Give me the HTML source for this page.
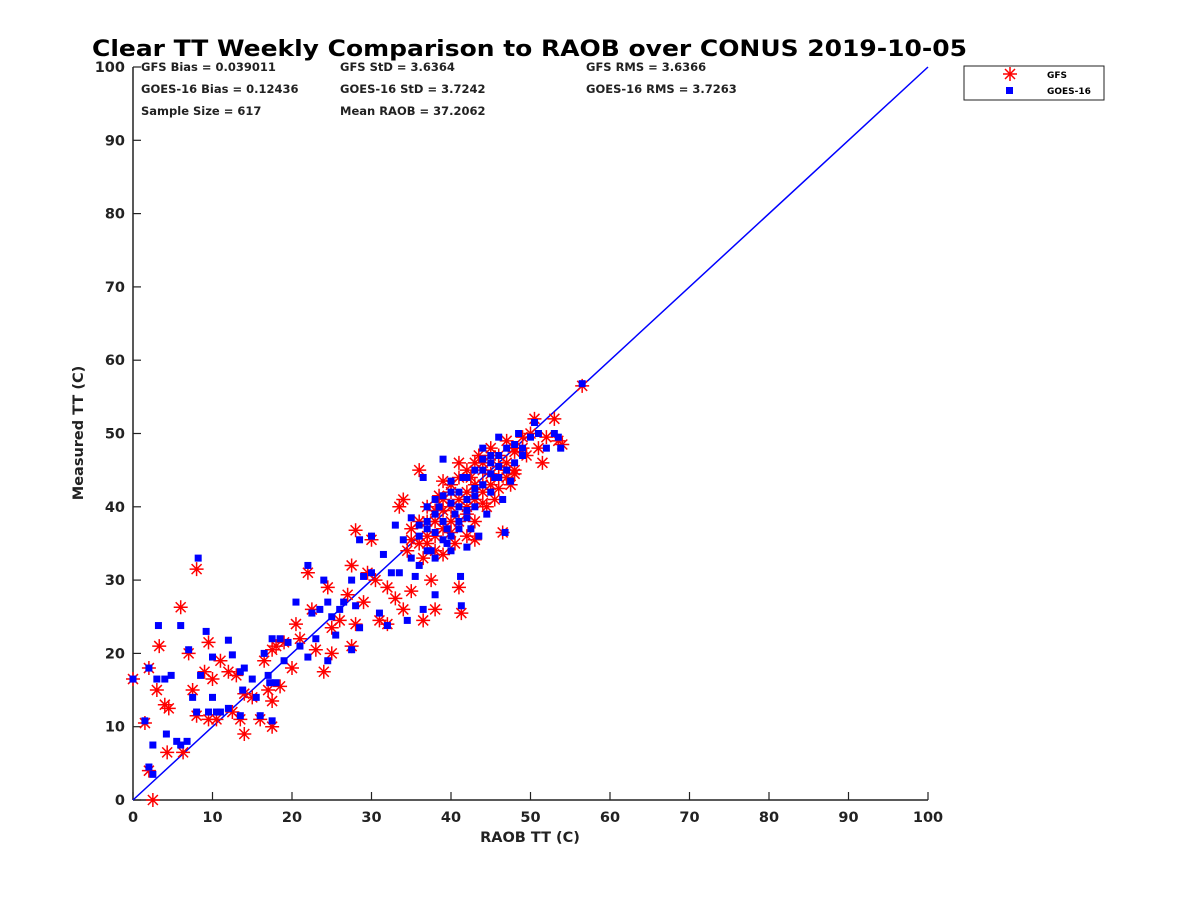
<!DOCTYPE html>
<html><head><meta charset="utf-8"><style>
html,body{margin:0;padding:0;background:#fff;}
svg{display:block;font-family:"DejaVu Sans","Liberation Sans",sans-serif;}
</style></head><body>
<svg id="chart" width="1200" height="900" viewBox="0 0 1200 900" xmlns="http://www.w3.org/2000/svg">
<rect width="1200" height="900" fill="#fff"/>
<text x="92" y="56" font-size="22.5" font-weight="bold" fill="#000" textLength="875" lengthAdjust="spacingAndGlyphs">Clear TT Weekly Comparison to RAOB over CONUS 2019-10-05</text>
<g font-size="11.5" font-weight="bold" fill="#222">
<text x="141" y="71">GFS Bias = 0.039011</text>
<text x="340" y="71">GFS StD = 3.6364</text>
<text x="586" y="71">GFS RMS = 3.6366</text>
<text x="141" y="93">GOES-16 Bias = 0.12436</text>
<text x="340" y="93">GOES-16 StD = 3.7242</text>
<text x="586" y="93">GOES-16 RMS = 3.7263</text>
<text x="141" y="115">Sample Size = 617</text>
<text x="340" y="115">Mean RAOB = 37.2062</text>
</g>
<g id="axes"></g>
<g id="marks"></g>
<g>
<rect x="964" y="66" width="140" height="34" fill="#fff" stroke="#222" stroke-width="1"/>
<g stroke="#f00" stroke-width="1.5">
<line x1="1003" y1="74" x2="1017" y2="74"/><line x1="1010" y1="67" x2="1010" y2="81"/>
<line x1="1005" y1="69" x2="1015" y2="79"/><line x1="1005" y1="79" x2="1015" y2="69"/></g>
<rect x="1006" y="87" width="7" height="7" fill="#00f"/>
<text x="1047" y="78" font-size="9" font-weight="bold">GFS</text>
<text x="1047" y="94" font-size="9" font-weight="bold">GOES-16</text>
</g>
<text x="530" y="842" font-size="14.5" font-weight="bold" text-anchor="middle" fill="#222">RAOB TT (C)</text>
<text transform="translate(83,433) rotate(-90)" font-size="14.5" font-weight="bold" text-anchor="middle" fill="#222">Measured TT (C)</text>
</svg>
<script>
const xTicks=[0,10,20,30,40,50,60,70,80,90,100];
const yTicks=[0,10,20,30,40,50,60,70,80,90,100];
const gfsX=[0,1.5,2,2,2.5,3,3.3,4,4.5,4.3,6,6.3,7,7.5,8,8,9,9.5,9.5,10,10.5,11,12,12.5,13,13.5,14,14,15,16,16.5,17,17.5,17.5,17.5,18,18.5,19,20,20.5,21,22,22.5,23,24,24.5,25,25,26,27,27.5,27.5,28,28,29,29.5,30,30.5,31,32,32,33,33.5,34,34,34.5,35,35,36,36.5,36.5,37,37.5,38,38,39,39,40,40,40.5,41,41,41.3,42,42,42.5,43,43,43.5,44,44,44.5,45,45,45.5,46,46,46.5,47,47,47.5,48,48,49,49.5,50,50.5,51,51.5,52,53,53.5,54,56.5,38,39,40,41,37,42,43,38.5,36,35,44,45,36,37,38,39,40,41,42,43,44,45,46,47,48,39,40,41,42,43,44,37,38,46,47,48,49];
const gfsY=[16.5,10.5,18,4,0,15,21,13,12.5,6.5,26.3,6.5,20,15,11.5,31.5,17.5,21.5,11,16.5,11,19,17.5,12,17,11,9,14.5,14,11,19,15,13.5,10,20.5,21,15.5,21.5,18,24,22,31,26,20.5,17.5,29,20,23.5,24.5,28,21,32,36.8,24,27,31,35.5,30,24.5,24,29,27.5,40,41,26,34,28.5,37,45,24.5,33,38,30,26,36,41,33.5,43,38,35,46,29,25.5,40,36,44,38,35.5,47,42,45,40,48,43,41,47,44,36.5,49,45,43,48,44.5,49.5,47,50,52,48,46,49.5,52,49,48.5,56.5,38,39.5,40,41,36,42,43,41.5,35,35.5,46,44.5,38,40,39.5,37,42,38,45,41,43,47,45.5,46,47.5,43.5,36.5,44,39,46,40.5,35,34,42.5,44,45,48];
const goesX=[0,1.5,2,2,2.5,2.5,3,3.2,4,4.2,4.8,5.5,6,6,6.8,7,7.5,8,8.2,8.5,9.2,9.5,10,10,10.5,11,12,12,12.5,13.5,13.5,13.8,14,15,15.5,16,16.5,17,17.2,17.5,17.5,18,18.5,19,19.5,20.5,21,22,22,22.5,23,23.5,24,24.5,24.5,25,25.5,26,26.5,27.5,27.5,28,28.5,28.5,29,30,30,31,31.5,32,32.5,33,33.5,34.5,35,35.5,36,36.5,36.5,37,37.5,38,38,38.5,39,39.5,40,40,40.5,41,41.2,41.3,41.5,42,42,42.5,43,43,43.5,44,44,44.5,45,45,45.5,46,46,46.5,46.8,47,47.5,48,48.5,49,50,50.5,51,52,53,53.5,53.8,56.5,38,39,37,36,40,41,42,43,44,45,38,39.5,35,34,37,36,37,38,39,40,41,42,43,44,45,46,47,48,49,40,42,44,46,39,41];
const goesY=[16.5,10.8,18,4.5,3.5,7.5,16.5,23.8,16.5,9,17,8,23.8,7.5,8,20.5,14,12,33,17,23,12,14,19.5,12,12,21.8,12.5,19.8,17.5,11.5,15,18,16.5,14,11.5,20,17,16,22,10.8,16,22,19,21.5,27,21,32,19.5,25.5,22,26,30,19,27,25,22.5,26,27,30,20.5,26.5,23.5,35.5,30.5,36,31,25.5,33.5,23.8,31,37.5,31,24.5,33,30.5,32,26,44,37,34,28,33,40,46.5,37,34,42,39,38,30.5,26.5,44,34.5,41,37,45,40,36,43,48,39,46,42,44,49.5,45.5,41,36.5,48,43.5,46,50,48,49.5,51.5,50,48,50,49.5,48,56.8,39,41.5,40,37.5,43.5,40,44,42.5,45,47,36.5,35,38.5,35.5,34,36,38,41,38,40.5,42,38.5,41.5,46.5,44.5,47,45,48.5,47,36,39.5,43,44,35.5,37];
const NS='http://www.w3.org/2000/svg';
const X0=133,X1=928,Y0=800,Y1=67;
const sx=v=>X0+(v-0)/(100-0)*(X1-X0);
const sy=v=>Y0-(v-0)/(100-0)*(Y0-Y1);
function mk(tag,attrs,parent){const e=document.createElementNS(NS,tag);for(const k in attrs)e.setAttribute(k,attrs[k]);parent.appendChild(e);return e;}
const axes=document.getElementById('axes'),marks=document.getElementById('marks');
let l=mk('line',{x1:X0,y1:Y0,x2:X1,y2:Y0,stroke:'#222','stroke-width':1.5},axes);


l=mk('line',{x1:X0,y1:Y0,x2:X0,y2:Y1,stroke:'#222','stroke-width':1.5},axes);


xTicks.forEach(t=>{
 const tk=mk('line',{x1:sx(t),y1:Y0,x2:sx(t),y2:Y0-8,stroke:'#222','stroke-width':1.2},axes);
 
 
 const tx=mk('text',{x:sx(t),y:Y0+22,'font-size':14.5,'font-weight':'bold','text-anchor':'middle',fill:'#222'},axes);
 tx.textContent=t;
 
 
});
yTicks.forEach(t=>{
 const tk=mk('line',{x1:X0,y1:sy(t),x2:X0+8,y2:sy(t),stroke:'#222','stroke-width':1.2},axes);
 
 
 const tx=mk('text',{x:X0-8,y:sy(t)+5,'font-size':14.5,'font-weight':'bold','text-anchor':'end',fill:'#222'},axes);
 tx.textContent=t;
 
 
});
const ref=mk('line',{x1:sx(0),y1:sy(0),x2:sx(100),y2:sy(100),stroke:'#00f','stroke-width':1.5},marks);


gfsX.forEach((x,i)=>{
 const cx=sx(x),cy=sy(gfsY[i]),r=7,d=5;
 const g=mk('path',{d:`M${cx-r},${cy}H${cx+r}M${cx},${cy-r}V${cy+r}M${cx-d},${cy-d}L${cx+d},${cy+d}M${cx-d},${cy+d}L${cx+d},${cy-d}`,stroke:'#f00','stroke-width':1.5,fill:'none'},marks);
 
 
});
goesX.forEach((x,i)=>{
 const s=mk('rect',{x:sx(x)-3.5,y:sy(goesY[i])-3.5,width:7,height:7,fill:'#00f'},marks);
 
 
});
</script>
</body></html>
